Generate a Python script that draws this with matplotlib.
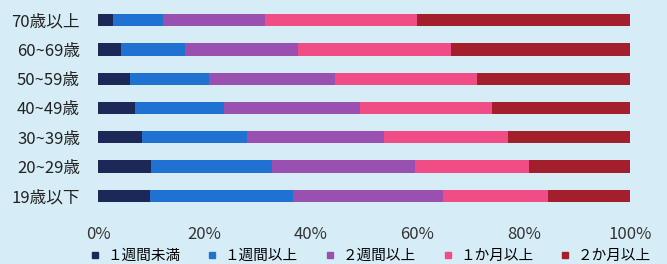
import numpy as np
import matplotlib
matplotlib.use('Agg')
import matplotlib.pyplot as plt
from matplotlib.lines import Line2D

plt.rcParams['font.family'] = ['Noto Sans CJK JP', 'DejaVu Sans']

# 年齢層（上から順）
ages = ['70歳以上', '60~69歳', '50~59歳', '40~49歳', '30~39歳', '20~29歳', '19歳以下']
series = ['１週間未満', '１週間以上', '２週間以上', '１か月以上', '２か月以上']

lt_1w = [2.8, 4.3, 6.0, 7.0, 8.2, 9.9, 9.8]
ge_1w = [9.4, 12.1, 14.9, 16.6, 19.7, 22.7, 26.8]
ge_2w = [19.2, 21.1, 23.6, 25.6, 25.9, 27.0, 28.3]
ge_1m = [28.5, 28.8, 26.7, 24.8, 23.3, 21.4, 19.7]
ge_2m = [40.1, 33.7, 28.8, 26.0, 22.9, 19.0, 15.4]

colors = ['#1c2857', '#1f72d2', '#9a50b0', '#f04d86', '#a21f2b']
bg = '#d6edf7'

fig = plt.figure(figsize=(6.67, 2.64), dpi=100, facecolor=bg)
ax = fig.add_axes([0.147, 0.203, 0.798, 0.776], facecolor=bg)

y = np.arange(len(ages))[::-1]
left = np.zeros(len(ages))
for vals, col, name in zip([lt_1w, ge_1w, ge_2w, ge_1m, ge_2m], colors, series):
    vals = np.array(vals)
    ax.barh(y, vals, left=left, height=0.42, color=col, label=name)
    left += vals

ax.set_xlim(0, 100)
ax.set_ylim(-0.5, len(ages) - 0.5)
ax.set_yticks(y)
ax.set_yticklabels(ages, fontsize=12, color='#222222')
ax.set_xticks([0, 20, 40, 60, 80, 100])
ax.set_xticklabels(['0%', '20%', '40%', '60%', '80%', '100%'], fontsize=12, color='#333333')
ax.tick_params(axis='x', length=0, pad=11)
ax.tick_params(axis='y', length=0, pad=13)
for s in ax.spines.values():
    s.set_visible(False)

handles = [Line2D([], [], marker='s', linestyle='', markersize=4.5, color=c) for c in colors]
fig.legend(handles, series, loc='lower center', bbox_to_anchor=(0.556, -0.045), ncol=5,
           frameon=False, fontsize=10.5, handletextpad=0.6, columnspacing=1.95,
           handlelength=0.5)

fig.savefig('out.png', dpi=100, facecolor=bg)
